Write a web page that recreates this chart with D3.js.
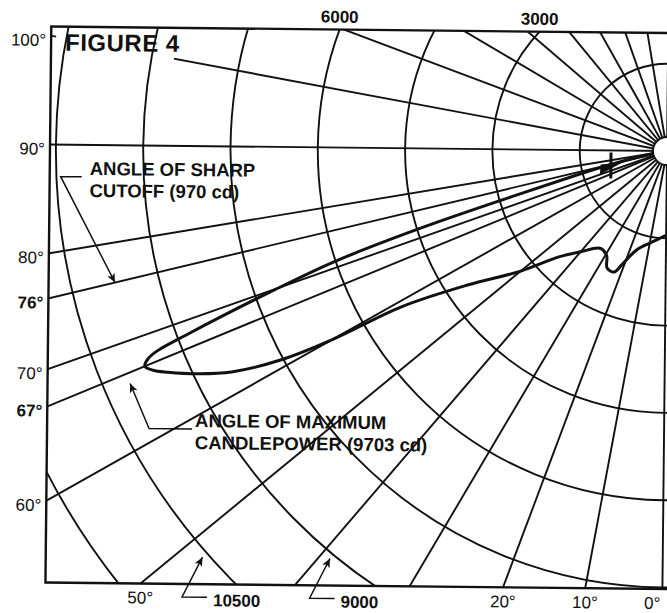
<!DOCTYPE html>
<html>
<head>
<meta charset="utf-8">
<script src="https://cdn.jsdelivr.net/npm/d3@7"></script>
<style>
  body { margin: 0; background: #fff; }
  svg { display: block; font-family: "Liberation Sans", Arial, Helvetica, sans-serif; }
</style>
</head>
<body>
<script>
"use strict";
(function () {
  // candlepower rings (cd)
  const ringValues = [1500, 3000, 4500, 6000, 7500, 9000, 10500, 12000];
  // radial grid, degrees from nadir
  const gridAngles = [0, 10, 20, 30, 40, 50, 60, 67, 70, 76, 80, 90, 100, 110, 120, 130, 140, 150, 160, 170, 180];
  const leftLabels = [100, 90, 80, 76, 70, 67, 60];
  const boldLabels = [76, 67];
  const bottomLabels = [50, 20, 10, 0];
  const topRingLabels = [6000, 3000];
  const bottomRingLabels = [10500, 9000];

  // measured distribution, angle (deg) -> candela
  const curveAngles  = [-10, 0, 5, 10, 16.5, 21, 23, 26.5, 29.5, 34, 40, 45, 50, 55.5, 59, 60, 61, 62.5, 64, 65.5, 66.3, 67, 67.6, 68, 68.5, 69, 69.8, 71, 72, 73, 74.5, 76, 78, 80, 90, 180];
  const curveCandela = [1450, 1450, 1520, 1610, 1780, 2100, 2270, 2260, 2070, 2030, 2280, 2600, 3250, 4130, 5290, 6600, 7550, 8390, 8920, 9380, 9600, 9703, 9600, 9400, 8800, 8200, 7270, 6020, 4450, 2780, 1590, 970, 450, 250, 150, 150];

  const width = 667, height = 613;
  const cx = 667, cy = 151;
  const frame = { left: 50, top: 33, bottom: 589, right: 720 };
  const ink = "#111";

  const rScale = d3.scaleLinear().domain([0, 1500]).range([0, 87.3]);
  const rad = d => d * Math.PI / 180;
  // angle from nadir, opening to the left
  function polar(a, cd) {
    const r = rScale(cd);
    return [cx - r * Math.sin(rad(a)), cy + r * Math.cos(rad(a))];
  }

  const svg = d3.select("body").append("svg")
    .attr("width", width)
    .attr("height", height);
  svg.append("rect").attr("width", width).attr("height", height).attr("fill", "#fff");

  const defs = svg.append("defs");
  defs.append("clipPath").attr("id", "frameClip")
    .append("rect")
      .attr("x", frame.left).attr("y", frame.top)
      .attr("width", frame.right - frame.left)
      .attr("height", frame.bottom - frame.top);
  defs.append("marker")
      .attr("id", "arrow")
      .attr("viewBox", "0 0 10 10")
      .attr("refX", 10).attr("refY", 5)
      .attr("markerUnits", "userSpaceOnUse")
      .attr("markerWidth", 14).attr("markerHeight", 9)
      .attr("orient", "auto")
    .append("path")
      .attr("d", "M0,0.5 L10,5 L0,9.5 L2.5,5 Z")
      .attr("fill", ink);

  // the scan is turned a little clockwise
  const root = svg.append("g").attr("transform", `rotate(0.6, ${cx}, ${cy})`);
  const plot = root.append("g").attr("clip-path", "url(#frameClip)");

  // radial lines
  plot.selectAll(".radial")
    .data(gridAngles)
    .enter()
    .append("line")
      .attr("class", "radial")
      .attr("x1", cx).attr("y1", cy)
      .attr("x2", d => polar(d, 20000)[0])
      .attr("y2", d => polar(d, 20000)[1])
      .attr("stroke", ink)
      .attr("stroke-width", 1.9);

  // the 100 degree line stops short of the title
  plot.append("rect")
    .attr("x", frame.left + 5).attr("y", frame.top + 2)
    .attr("width", 118).attr("height", 32)
    .attr("fill", "#fff");

  // rings
  plot.selectAll(".ring")
    .data(ringValues)
    .enter()
    .append("circle")
      .attr("class", "ring")
      .attr("cx", cx).attr("cy", cy)
      .attr("r", d => rScale(d))
      .attr("fill", "none")
      .attr("stroke", ink)
      .attr("stroke-width", 1.9);

  // candlepower curve
  const curveData = curveAngles.map((a, i) => ({ a: a, cd: curveCandela[i] }));
  const radial = d3.lineRadial()
    .angle(d => Math.PI + rad(d.a))
    .radius(d => rScale(d.cd))
    .curve(d3.curveCatmullRom.alpha(0.5));
  plot.append("path")
    .datum(curveData)
    .attr("transform", `translate(${cx},${cy})`)
    .attr("d", radial)
    .attr("fill", "none")
    .attr("stroke", ink)
    .attr("stroke-width", 3)
    .attr("stroke-linejoin", "round");

  // aiming mark near the source
  const barP = polar(74, 1000);
  plot.append("line")
    .attr("x1", barP[0]).attr("y1", barP[1] - 14)
    .attr("x2", barP[0]).attr("y2", barP[1] + 12)
    .attr("stroke", ink).attr("stroke-width", 3);
  const tipP = polar(75, 780), baseA = polar(73.2, 1200), baseB = polar(74.6, 1180);
  plot.append("path")
    .attr("d", `M${tipP[0]},${tipP[1]} L${baseA[0]},${baseA[1] + 4} L${baseB[0]},${baseB[1] - 4} Z`)
    .attr("fill", ink);

  // light source
  root.append("circle")
    .attr("cx", cx).attr("cy", cy).attr("r", 14)
    .attr("fill", "#fff").attr("stroke", ink).attr("stroke-width", 1.8);

  // frame
  root.append("rect")
    .attr("x", frame.left).attr("y", frame.top)
    .attr("width", frame.right - frame.left)
    .attr("height", frame.bottom - frame.top)
    .attr("fill", "none")
    .attr("stroke", ink)
    .attr("stroke-width", 2.4);

  // angle labels on the left edge
  const leftY = a => cy + (cx - frame.left) * Math.tan(rad(90 - a));
  root.selectAll(".leftLabel")
    .data(leftLabels)
    .enter()
    .append("text")
      .attr("class", "leftLabel")
      .attr("x", frame.left - 5)
      .attr("y", d => leftY(d) + 4)
      .attr("dy", "0.36em")
      .attr("text-anchor", "end")
      .attr("font-size", 17)
      .attr("font-weight", d => boldLabels.includes(d) ? "bold" : "normal")
      .attr("fill", ink)
      .text(d => d + "°");

  // angle labels under the bottom edge (kept inside the page at the right)
  const bottomX = a => Math.min(cx - (frame.bottom - cy) * Math.tan(rad(a)), width - 10);
  root.selectAll(".bottomLabel")
    .data(bottomLabels)
    .enter()
    .append("text")
      .attr("class", "bottomLabel")
      .attr("x", d => bottomX(d))
      .attr("y", frame.bottom + 20)
      .attr("text-anchor", "middle")
      .attr("font-size", 17)
      .attr("fill", ink)
      .text(d => d + "°");

  // ring values along the top
  const topX = v => cx - Math.sqrt(rScale(v) ** 2 - (cy - frame.top) ** 2);
  root.selectAll(".topRing")
    .data(topRingLabels)
    .enter()
    .append("text")
      .attr("class", "topRing")
      .attr("x", d => topX(d))
      .attr("y", frame.top - 7)
      .attr("text-anchor", "middle")
      .attr("font-size", 17)
      .attr("font-weight", "bold")
      .attr("fill", ink)
      .text(d => d);

  // ring values along the bottom, with leaders
  bottomRingLabels.forEach(v => {
    const yy = frame.bottom - 27;
    const xx = cx - Math.sqrt(rScale(v) ** 2 - (yy - cy) ** 2) - 8;
    const corner = [xx - 20, frame.bottom + 13];
    root.append("path")
      .attr("d", `M${corner[0] + 25},${corner[1]} L${corner[0]},${corner[1]} L${xx},${yy}`)
      .attr("fill", "none").attr("stroke", ink).attr("stroke-width", 1.5)
      .attr("marker-end", "url(#arrow)");
    root.append("text")
      .attr("x", corner[0] + 31)
      .attr("y", frame.bottom + 22)
      .attr("font-size", 17)
      .attr("font-weight", "bold")
      .attr("fill", ink)
      .text(v);
  });

  // title
  root.append("text")
    .attr("x", 64).attr("y", 57)
    .attr("font-size", 24)
    .attr("font-weight", "bold")
    .attr("letter-spacing", 0.5)
    .attr("fill", ink)
    .text("FIGURE 4");

  // sharp cutoff note
  const cutTip = polar(76, 9750);
  root.append("path")
    .attr("d", `M82,183 L61,183 L${cutTip[0]},${cutTip[1]}`)
    .attr("fill", "none").attr("stroke", ink).attr("stroke-width", 1.5)
    .attr("marker-end", "url(#arrow)");
  const cutText = root.append("text")
    .attr("font-size", 18.5).attr("font-weight", "bold").attr("fill", ink);
  cutText.append("tspan").attr("x", 90).attr("y", 181).text("ANGLE OF SHARP");
  cutText.append("tspan").attr("x", 90).attr("y", 203).text("CUTOFF (970 cd)");

  // maximum candlepower note
  const maxTip = polar(67, 9900);
  root.append("path")
    .attr("d", `M195,434 L152,434 L${maxTip[0] - 4},${maxTip[1] + 13}`)
    .attr("fill", "none").attr("stroke", ink).attr("stroke-width", 1.5)
    .attr("marker-end", "url(#arrow)");
  const maxText = root.append("text")
    .attr("font-size", 18.5).attr("font-weight", "bold").attr("fill", ink);
  maxText.append("tspan").attr("x", 198).attr("y", 432).text("ANGLE OF MAXIMUM");
  maxText.append("tspan").attr("x", 198).attr("y", 454).text("CANDLEPOWER (9703 cd)");
})();
</script>
</body>
</html>
